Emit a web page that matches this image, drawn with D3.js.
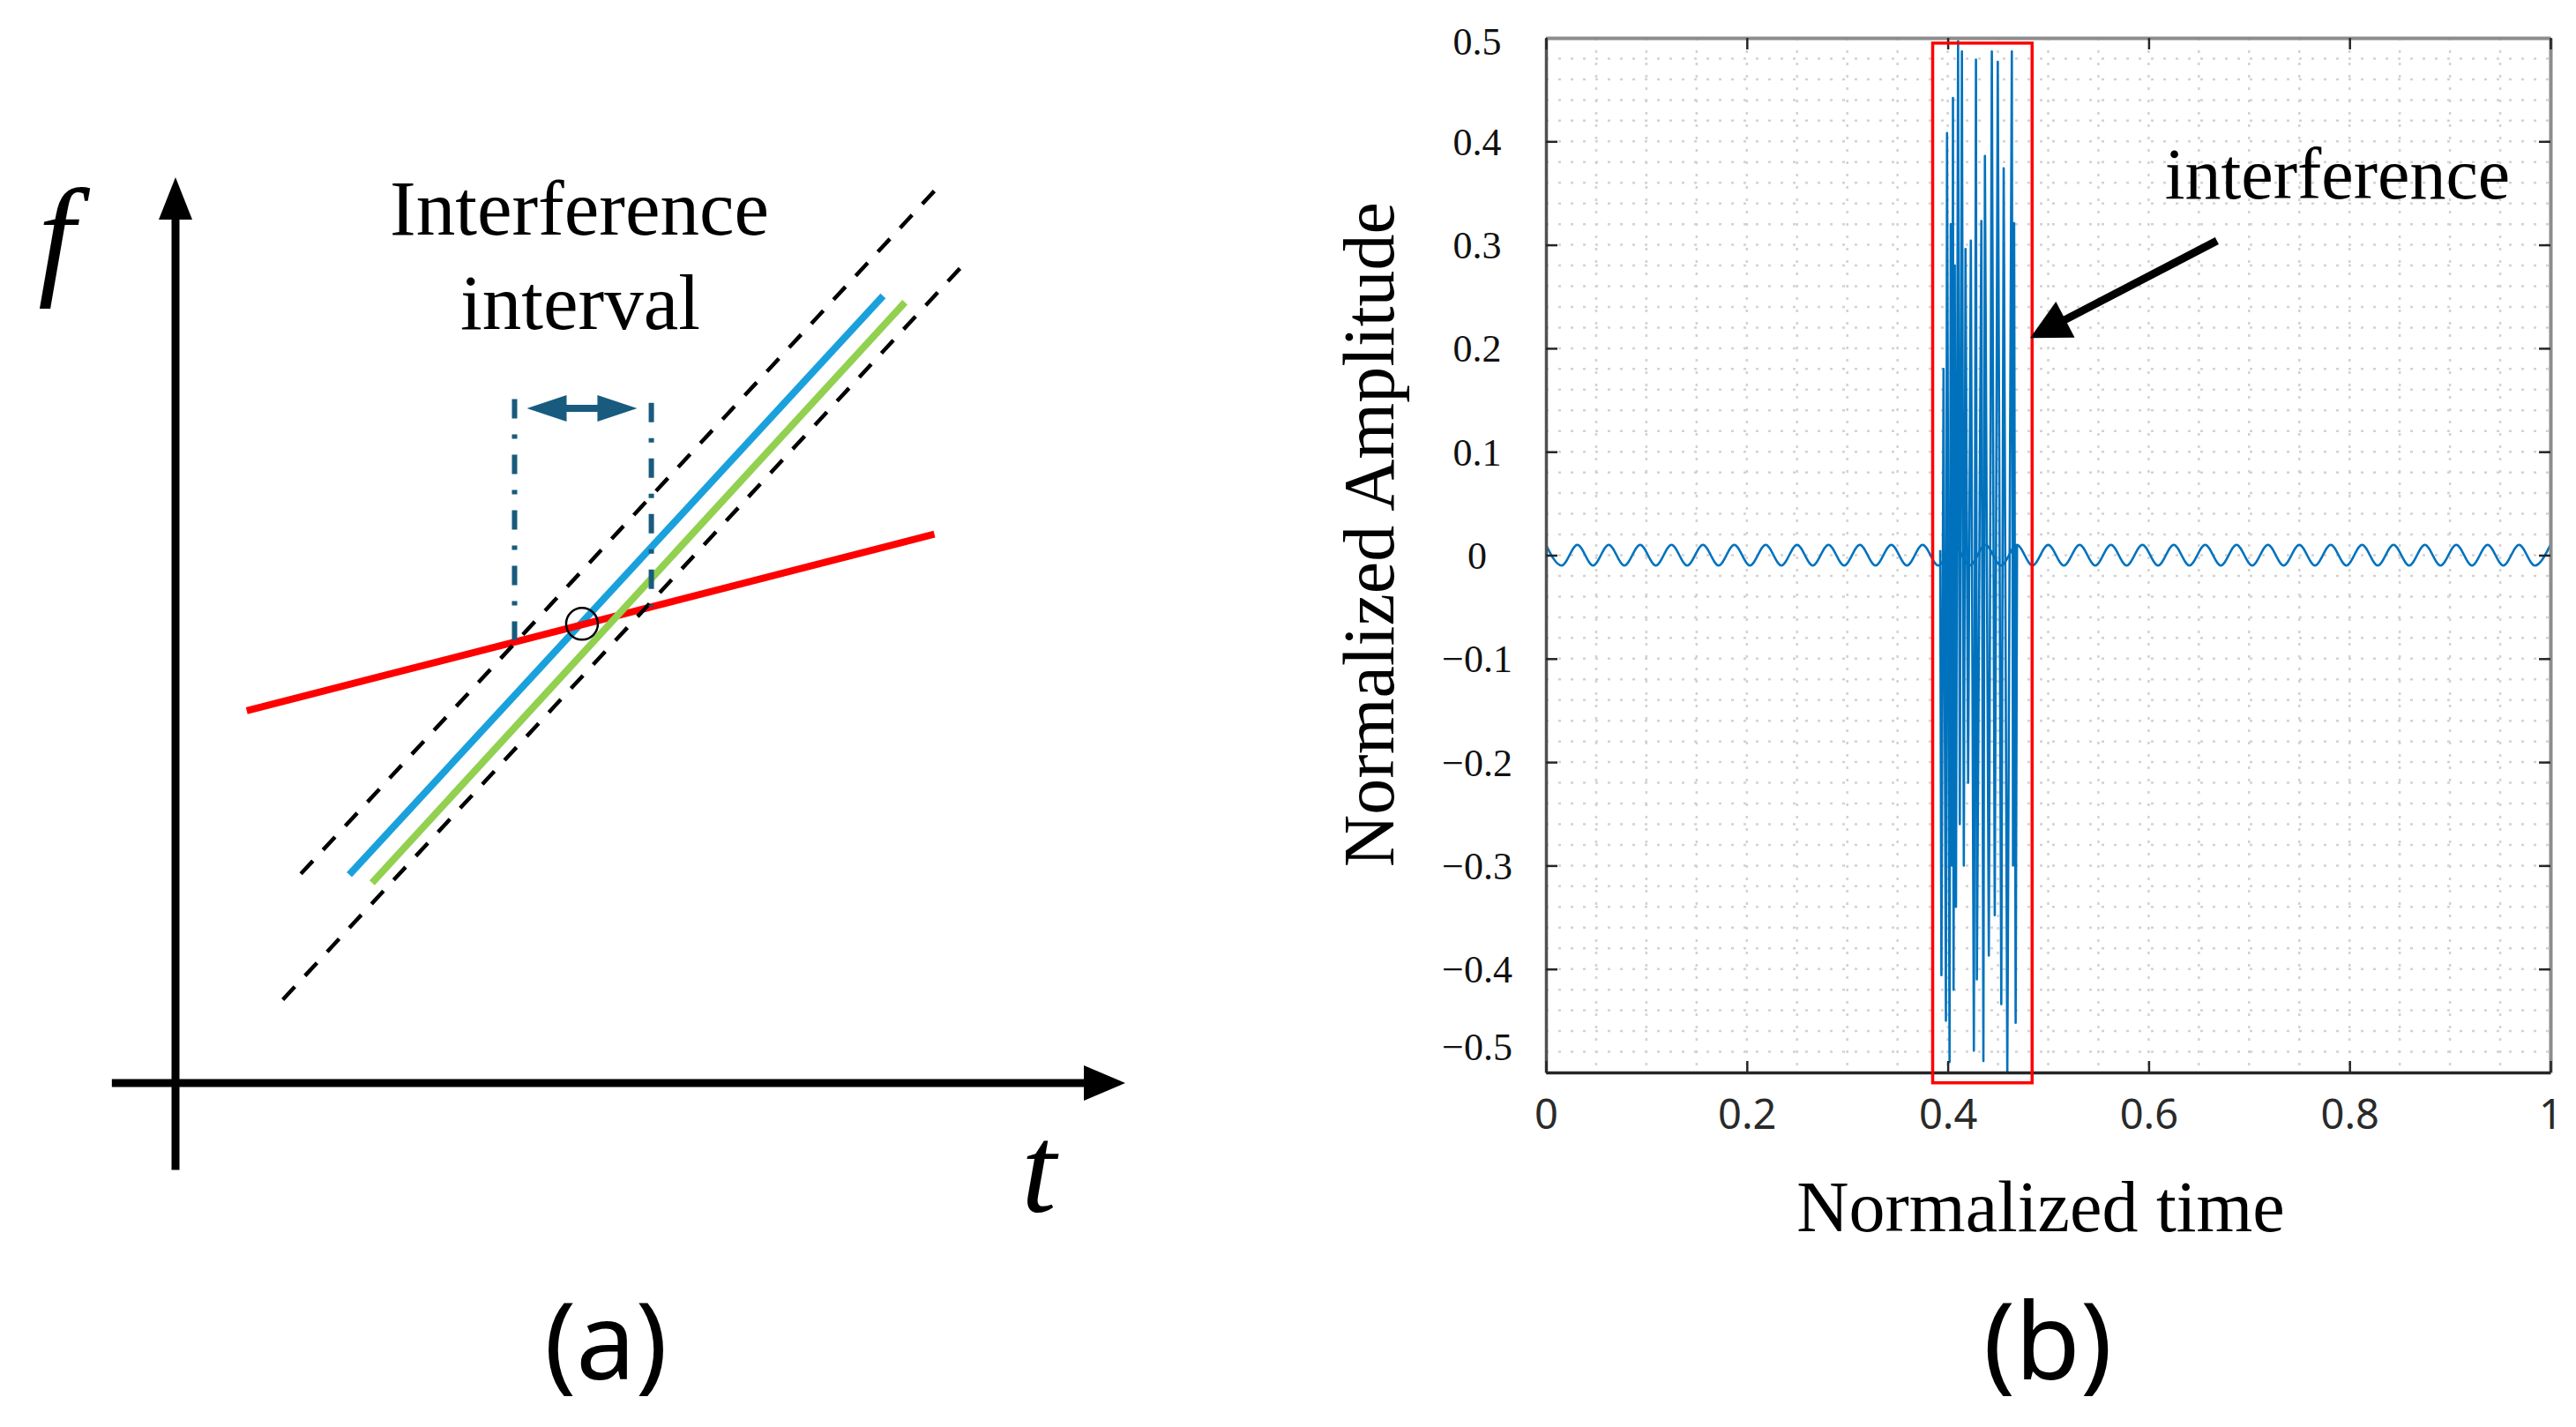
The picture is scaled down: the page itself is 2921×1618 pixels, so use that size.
<!DOCTYPE html>
<html lang="en">
<head>
<meta charset="utf-8">
<title>Interference interval / normalized amplitude</title>
<script src="https://cdn.jsdelivr.net/npm/d3@7"></script>
<style>
  html, body { margin: 0; padding: 0; background: #fff; }
  svg { display: block; }
  .serif { font-family: "Liberation Serif", "Times New Roman", serif; }
  .sans { font-family: "Noto Sans", "Open Sans", sans-serif; }
</style>
</head>
<body>
<svg id="fig" width="2921" height="1618"></svg>

<script>
// ---------- panel (a) : schematic, in units along each axis arrow (0..1)
var dashedUpper = [[0.132, 0.231], [0.800, 0.986]];
var dashedLower = [[0.113, 0.092], [0.830, 0.904]];
var blueChirp   = [[0.183, 0.230], [0.745, 0.869]];
var greenChirp  = [[0.207, 0.221], [0.768, 0.862]];
var redChirp    = [[0.075, 0.411], [0.799, 0.606]];
var intervalLeft  = [[0.357, 0.755], [0.357, 0.489]];
var intervalRight = [[0.501, 0.751], [0.501, 0.526]];
var intervalArrow = [[0.370, 0.745], [0.486, 0.745]];
var crossPoint = [0.428, 0.507];
var axisTail = -0.096;   // how far the f axis runs below the origin
var axisTailT = -0.067;  // how far the t axis runs left of the origin

// ---------- panel (b) : normalized signal
var xTicks = [0, 0.2, 0.4, 0.6, 0.8, 1];
var yTicks = [-0.5, -0.4, -0.3, -0.2, -0.1, 0, 0.1, 0.2, 0.3, 0.4, 0.5];

// background tone, peaks and troughs
var toneT = [0, 0.0156, 0.0313, 0.0469, 0.0625, 0.0781, 0.0938, 0.1094, 0.125, 0.1406,
  0.1563, 0.1719, 0.1875, 0.2031, 0.2188, 0.2344, 0.25, 0.2656, 0.2813, 0.2969,
  0.3125, 0.3281, 0.3438, 0.3594, 0.375, 0.3906, 0.4063, 0.4219, 0.4375, 0.4531,
  0.4688, 0.4844, 0.5, 0.5156, 0.5313, 0.5469, 0.5625, 0.5781, 0.5938, 0.6094,
  0.625, 0.6406, 0.6563, 0.6719, 0.6875, 0.7031, 0.7188, 0.7344, 0.75, 0.7656,
  0.7813, 0.7969, 0.8125, 0.8281, 0.8438, 0.8594, 0.875, 0.8906, 0.9063, 0.9219,
  0.9375, 0.9531, 0.9688, 0.9844, 1];
var toneY = [0.01, -0.01, 0.01, -0.01, 0.01, -0.01, 0.01, -0.01, 0.01, -0.01,
  0.01, -0.01, 0.01, -0.01, 0.01, -0.01, 0.01, -0.01, 0.01, -0.01,
  0.01, -0.01, 0.01, -0.01, 0.01, -0.01, 0.01, -0.01, 0.01, -0.01,
  0.01, -0.01, 0.01, -0.01, 0.01, -0.01, 0.01, -0.01, 0.01, -0.01,
  0.01, -0.01, 0.01, -0.01, 0.01, -0.01, 0.01, -0.01, 0.01, -0.01,
  0.01, -0.01, 0.01, -0.01, 0.01, -0.01, 0.01, -0.01, 0.01, -0.01,
  0.01, -0.01, 0.01, -0.01, 0.01];

// interference burst, spike extremes
var burstT = [0.3925, 0.3937, 0.3958, 0.3982, 0.3993, 0.4018, 0.4030, 0.4042, 0.4052, 0.4058,
  0.4070, 0.4082, 0.4103, 0.4120, 0.4141, 0.4160, 0.4177, 0.4203, 0.4230, 0.4260,
  0.4281, 0.4290, 0.4335, 0.4355, 0.4370, 0.4409, 0.4439, 0.4468, 0.4498, 0.4533,
  0.4557, 0.4593, 0.4638, 0.4650, 0.4661, 0.4676, 0.4690];
var burstY = [0.005, -0.406, 0.180, -0.450, 0.408, -0.490, 0.320, -0.300, 0.442, -0.420,
  0.280, -0.340, 0.497, -0.260, 0.487, -0.300, 0.296, -0.220, 0.304, -0.479,
  0.479, -0.410, 0.323, -0.489, 0.386, -0.387, 0.487, -0.348, 0.477, -0.434,
  0.374, -0.500, 0.487, -0.300, 0.321, -0.452, 0.010];

var boxT = [0.385, 0.484];
var boxA = [-0.51, 0.495];
var noteArrow = [[0.668, 0.304], [0.482, 0.210]];
var notePos = [0.788, 0.345];

var svg = d3.select("#fig");
svg.append("rect").attr("width", 2921).attr("height", 1618).attr("fill", "#fff");

// ================= panel (a)
var ax = d3.scaleLinear().domain([0, 1]).range([199, 1276]);
var ay = d3.scaleLinear().domain([0, 1]).range([1228, 201]);
var seg = d3.line().x(function (d) { return ax(d[0]); }).y(function (d) { return ay(d[1]); });
var pa = svg.append("g");

function head(tip, dir, len, half) {
  // triangle pointing along dir from its base to tip
  var ux = dir[0], uy = dir[1], n = Math.sqrt(ux * ux + uy * uy);
  ux /= n; uy /= n;
  var bx = tip[0] - ux * len, by = tip[1] - uy * len;
  return "M" + tip[0] + "," + tip[1] +
    "L" + (bx - uy * half) + "," + (by + ux * half) +
    "L" + (bx + uy * half) + "," + (by - ux * half) + "Z";
}

// axes
pa.append("line")
  .attr("x1", ax(0)).attr("x2", ax(0))
  .attr("y1", ay(axisTail)).attr("y2", ay(1) + 40)
  .attr("stroke", "#000").attr("stroke-width", 9);
pa.append("path").attr("d", head([ax(0), ay(1)], [0, -1], 48, 19)).attr("fill", "#000");
pa.append("line")
  .attr("x1", ax(axisTailT)).attr("x2", ax(1) - 40)
  .attr("y1", ay(0)).attr("y2", ay(0))
  .attr("stroke", "#000").attr("stroke-width", 9);
pa.append("path").attr("d", head([ax(1), ay(0)], [1, 0], 47, 20)).attr("fill", "#000");

// chirps
pa.append("path").datum(blueChirp).attr("d", seg)
  .attr("stroke", "#1aa1dc").attr("stroke-width", 8).attr("fill", "none");
pa.append("path").datum(redChirp).attr("d", seg)
  .attr("stroke", "#ff0000").attr("stroke-width", 8).attr("fill", "none");
pa.append("path").datum(greenChirp).attr("d", seg)
  .attr("stroke", "#92d050").attr("stroke-width", 8).attr("fill", "none");

[dashedUpper, dashedLower].forEach(function (l) {
  pa.append("path").datum(l).attr("d", seg)
    .attr("stroke", "#000").attr("stroke-width", 4.5)
    .attr("stroke-dasharray", "20 17").attr("fill", "none");
});

// interference interval
[intervalLeft, intervalRight].forEach(function (l) {
  pa.append("path").datum(l).attr("d", seg)
    .attr("stroke", "#195b7e").attr("stroke-width", 6)
    .attr("stroke-dasharray", "22 18 5 18").attr("fill", "none");
});
var a0 = [ax(intervalArrow[0][0]), ay(intervalArrow[0][1])];
var a1 = [ax(intervalArrow[1][0]), ay(intervalArrow[1][1])];
pa.append("line")
  .attr("x1", a0[0] + 30).attr("x2", a1[0] - 30)
  .attr("y1", a0[1]).attr("y2", a1[1])
  .attr("stroke", "#195b7e").attr("stroke-width", 8);
pa.append("path").attr("d", head(a0, [-1, 0], 45, 15)).attr("fill", "#195b7e");
pa.append("path").attr("d", head(a1, [1, 0], 45, 15)).attr("fill", "#195b7e");

pa.append("circle")
  .attr("cx", ax(crossPoint[0])).attr("cy", ay(crossPoint[1])).attr("r", 18)
  .attr("fill", "none").attr("stroke", "#000").attr("stroke-width", 2.5);

// texts
pa.append("text").attr("class", "serif")
  .attr("x", 64).attr("y", 318).attr("text-anchor", "middle")
  .attr("font-size", 150).attr("font-style", "italic").text("f");
pa.append("text").attr("class", "serif")
  .attr("x", 1178).attr("y", 1374).attr("text-anchor", "middle")
  .attr("font-size", 142).attr("font-style", "italic").text("t");
pa.append("text").attr("class", "serif")
  .attr("x", 657).attr("y", 266).attr("text-anchor", "middle")
  .attr("font-size", 89).text("Interference");
pa.append("text").attr("class", "serif")
  .attr("x", 658).attr("y", 373).attr("text-anchor", "middle")
  .attr("font-size", 89).text("interval");
pa.append("text").attr("class", "sans")
  .attr("x", 687).attr("y", 1564).attr("text-anchor", "middle")
  .attr("font-size", 120).text("(a)");

// ================= panel (b)
var x = d3.scaleLinear().domain([0, 1]).range([1753, 2892]);
var y = d3.scaleLinear().domain([-0.5, 0.5]).range([1216, 43]);
var pb = svg.append("g");

pb.append("clipPath").attr("id", "plot")
  .append("rect").attr("x", x(0)).attr("y", y(0.5))
  .attr("width", x(1) - x(0)).attr("height", y(-0.5) - y(0.5));

// dotted minor grid
var gx = x.ticks(20).filter(function (v) { return v > 0 && v < 1; });
var gy = y.ticks(50).filter(function (v) { return Math.abs(v) < 0.499; });
var grid = pb.append("g").attr("stroke", "#d2d2d2").attr("stroke-width", 2.5)
  .attr("stroke-dasharray", "3 11");
grid.selectAll(".gx").data(gx).enter().append("line")
  .attr("x1", x).attr("x2", x).attr("y1", y(0.5)).attr("y2", y(-0.5));
grid.selectAll(".gy").data(gy).enter().append("line")
  .attr("y1", y).attr("y2", y).attr("x1", x(0)).attr("x2", x(1));

// signal
var tone = toneT.map(function (t, i) { return [t, toneY[i]]; });
var burst = burstT.map(function (t, i) { return [t, burstY[i]]; });
var sig = pb.append("g").attr("clip-path", "url(#plot)");
sig.append("path").datum(tone)
  .attr("d", d3.line().curve(d3.curveMonotoneX)
    .x(function (d) { return x(d[0]); }).y(function (d) { return y(d[1]); }))
  .attr("fill", "none").attr("stroke", "#0072bd").attr("stroke-width", 2.6);
sig.append("path").datum(burst)
  .attr("d", d3.line().x(function (d) { return x(d[0]); }).y(function (d) { return y(d[1]); }))
  .attr("fill", "none").attr("stroke", "#0072bd").attr("stroke-width", 2.6)
  .attr("stroke-linejoin", "round");

// axes (box with inward ticks)
var tickLen = 13;
var gl = pb.append("g").attr("transform", "translate(" + x(0) + ",0)")
  .call(d3.axisLeft(y).tickValues(yTicks).tickSize(-tickLen).tickSizeOuter(0)
    .tickFormat(function (d) { return d === 0 ? "0" : d3.format(".1f")(d).replace("-", "\u2212"); }));
var gr = pb.append("g").attr("transform", "translate(" + x(1) + ",0)")
  .call(d3.axisRight(y).tickValues(yTicks).tickSize(-tickLen).tickSizeOuter(0).tickFormat(""));
var gt = pb.append("g").attr("transform", "translate(0," + y(0.5) + ")")
  .call(d3.axisTop(x).tickValues(xTicks).tickSize(-tickLen).tickSizeOuter(0).tickFormat(""));
var gb = pb.append("g").attr("transform", "translate(0," + y(-0.5) + ")")
  .call(d3.axisBottom(x).tickValues(xTicks).tickSize(-tickLen).tickSizeOuter(0)
    .tickFormat(function (d) { return d === 0 || d === 1 ? String(d) : d3.format(".1f")(d); }));

[gl, gr, gt, gb].forEach(function (g) {
  g.attr("font-size", null).attr("font-family", null);
  g.selectAll(".tick line").attr("stroke", "#262626").attr("stroke-width", 2.5);
});
gt.select(".domain").attr("stroke", "#8c8c8c").attr("stroke-width", 4);
gr.select(".domain").attr("stroke", "#8c8c8c").attr("stroke-width", 4);
gl.select(".domain").attr("stroke", "#505050").attr("stroke-width", 3.5);
gb.select(".domain").attr("stroke", "#262626").attr("stroke-width", 3.5);

// y labels centred in a column left of the frame; end labels kept inside it
gl.selectAll(".tick text")
  .attr("class", "serif").attr("font-size", 44).attr("fill", "#111")
  .attr("text-anchor", "middle").attr("x", -78).attr("dy", "0.34em")
  .attr("y", function (d) { return d === yTicks[0] ? -29 : (d === yTicks[yTicks.length - 1] ? 4 : 0); });
gb.selectAll(".tick text")
  .attr("class", "sans").attr("font-size", 47).attr("fill", "#2a2a2a")
  .attr("y", 64).attr("dy", 0);

// red box + annotation
pb.append("rect")
  .attr("x", x(boxT[0])).attr("y", y(boxA[1]))
  .attr("width", x(boxT[1]) - x(boxT[0])).attr("height", y(boxA[0]) - y(boxA[1]))
  .attr("fill", "none").attr("stroke", "#ff0000").attr("stroke-width", 3.5);

var n0 = [x(noteArrow[0][0]), y(noteArrow[0][1])];
var n1 = [x(noteArrow[1][0]), y(noteArrow[1][1])];
var dir = [n1[0] - n0[0], n1[1] - n0[1]];
var dl = Math.sqrt(dir[0] * dir[0] + dir[1] * dir[1]);
pb.append("line")
  .attr("x1", n0[0]).attr("y1", n0[1])
  .attr("x2", n1[0] - dir[0] / dl * 38).attr("y2", n1[1] - dir[1] / dl * 38)
  .attr("stroke", "#000").attr("stroke-width", 9);
pb.append("path").attr("d", head(n1, dir, 45, 23)).attr("fill", "#000");

pb.append("text").attr("class", "serif")
  .attr("x", x(notePos[0])).attr("y", y(notePos[1])).attr("text-anchor", "middle")
  .attr("font-size", 82).text("interference");

pb.append("text").attr("class", "serif")
  .attr("transform", "translate(1580," + 606 + ") rotate(-90)")
  .attr("text-anchor", "middle").attr("font-size", 82).text("Normalized Amplitude");
pb.append("text").attr("class", "serif")
  .attr("x", 2314).attr("y", 1396).attr("text-anchor", "middle")
  .attr("font-size", 82).text("Normalized time");
pb.append("text").attr("class", "sans")
  .attr("x", 2322).attr("y", 1564).attr("text-anchor", "middle")
  .attr("font-size", 120).text("(b)");
</script>
</body>
</html>
